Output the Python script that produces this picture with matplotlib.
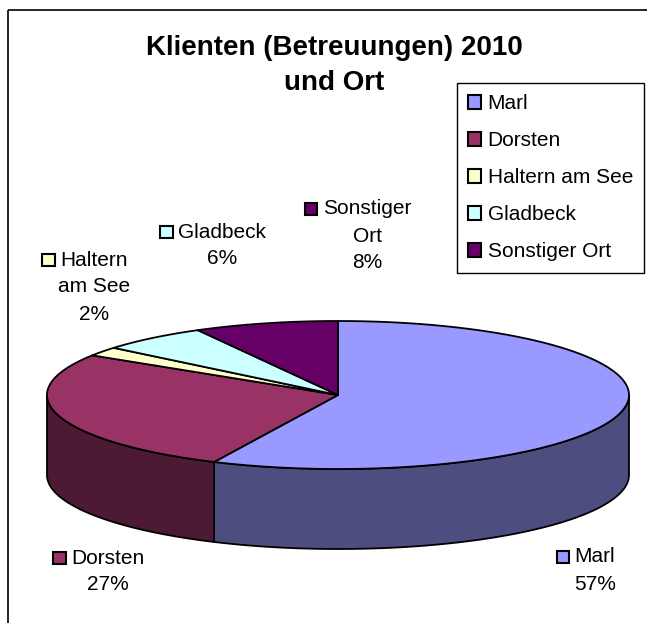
import numpy as np
import matplotlib
matplotlib.use('Agg')
import matplotlib.pyplot as plt
from matplotlib.patches import Polygon, Rectangle, Patch

plt.rcParams['font.family'] = ['Liberation Sans', 'DejaVu Sans']

# ---- Daten ----
orte = ['Marl', 'Dorsten', 'Haltern am See', 'Gladbeck', 'Sonstiger Ort']
anteile = [57, 27, 2, 6, 8]
label_zeilen = [['Marl'], ['Dorsten'], ['Haltern', 'am See'], ['Gladbeck'], ['Sonstiger', 'Ort']]
farben = ['#9999FF', '#993366', '#FFFFCC', '#CCFFFF', '#660066']
seiten_farben = ['#4D4D80', '#4D1A33', '#80806A', '#668080', '#330033']
titel = ['Klienten (Betreuungen) 2010', 'und Ort']

# ---- Layout (Pixel) ----
W, H = 647, 623
CX, CY, RX, RY, TIEFE = 338, 395, 291, 74, 80
label_pos = [(595, 557), (108, 558), (94, 260), (222, 232), (367, 209)]
ZEILE = 27
LW = 1.3


def rand(t_deg):
    t = np.radians(t_deg)
    return CX + RX * np.cos(t), CY + RY * np.sin(t)


fig = plt.figure(figsize=(W / 100, H / 100), dpi=100)
ax = fig.add_axes([0, 0, 1, 1])
ax.set_xlim(0, W)
ax.set_ylim(H, 0)
ax.axis('off')

# Rahmen
ax.add_patch(Rectangle((8, 10), 800, 800, fill=False, ec='black', lw=1.2))

# Winkelbereiche: Start bei 12 Uhr, im Uhrzeigersinn
werte = np.array(anteile, dtype=float)
kum = np.concatenate([[0], np.cumsum(werte) / werte.sum()])
bereiche = [(-90 + kum[i] * 360, -90 + kum[i + 1] * 360) for i in range(len(werte))]

# Seitenwaende (nur vordere Haelfte sichtbar)
for i, (a, b) in enumerate(bereiche):
    lo, hi = max(a, 0), min(b, 180)
    if hi <= lo:
        continue
    t = np.linspace(lo, hi, 200)
    x, y = rand(t)
    pts = np.column_stack([np.r_[x, x[::-1]], np.r_[y, y[::-1] + TIEFE]])
    ax.add_patch(Polygon(pts, closed=True, fc=seiten_farben[i], ec='black',
                         lw=LW, joinstyle='round'))

# Deckflaechen
for i, (a, b) in enumerate(bereiche):
    t = np.linspace(a, b, 300)
    x, y = rand(t)
    pts = np.column_stack([np.r_[CX, x], np.r_[CY, y]])
    ax.add_patch(Polygon(pts, closed=True, fc=farben[i], ec='black',
                         lw=LW, joinstyle='round'))

# Titel
for j, zeile in enumerate(titel):
    ax.text(334, 48 + j * 35, zeile, ha='center', va='center',
            fontsize=20, fontweight='bold')

# Datenbeschriftungen
fig.canvas.draw()
renderer = fig.canvas.get_renderer()
prozent = np.round(werte / werte.sum() * 100).astype(int)
for i, (px, py) in enumerate(label_pos):
    zeilen = label_zeilen[i] + [f'{prozent[i]}%']
    erste = None
    for j, z in enumerate(zeilen):
        t = ax.text(px, py + j * ZEILE, z, ha='center', va='center', fontsize=15)
        if j == 0:
            erste = t
    bb = erste.get_window_extent(renderer=renderer)
    links = ax.transData.inverted().transform((bb.x0, bb.y0))[0]
    ax.add_patch(Rectangle((links - 18, py - 6.5), 12.5, 12.5, fc=farben[i],
                           ec='black', lw=1.5))

# Legende
handles = [Patch(fc=c, ec='black', lw=1.5) for c in farben]
leg = ax.legend(handles, orte, loc='upper left',
                bbox_to_anchor=(457 / W, 1 - 83 / H), bbox_transform=fig.transFigure,
                fontsize=15, frameon=True, fancybox=False, edgecolor='black',
                framealpha=1, borderaxespad=0, handlelength=0.62, handleheight=0.62,
                handletextpad=0.3, labelspacing=0.86, borderpad=0.55)
leg.get_frame().set_linewidth(1.0)

fig.savefig('out.png', dpi=100)
